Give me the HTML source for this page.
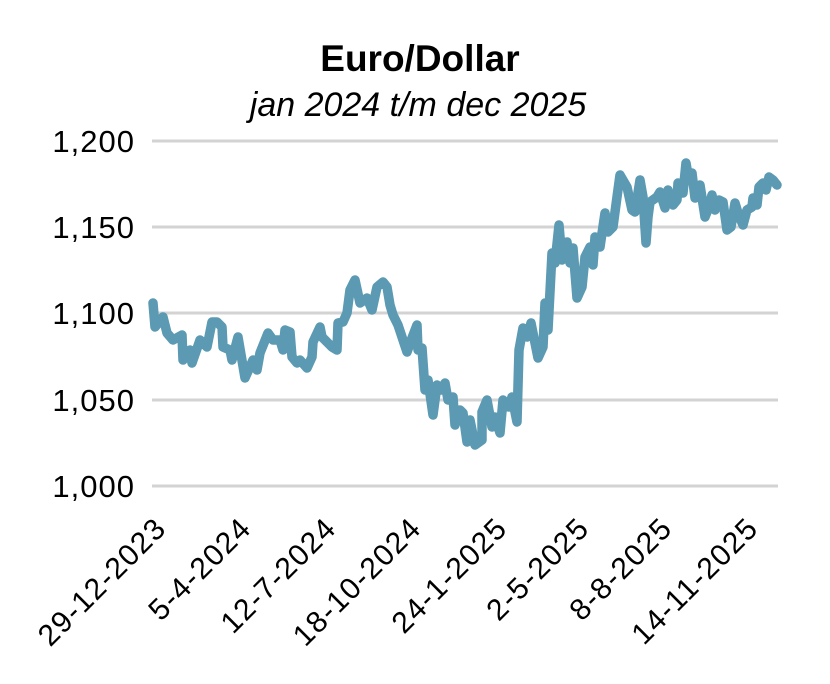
<!DOCTYPE html>
<html><head><meta charset="utf-8"><style>
html,body{margin:0;padding:0;background:#fff;}
svg{display:block;font-family:"Liberation Sans",Calibri,sans-serif;}
</style></head><body>
<svg width="830" height="684" viewBox="0 0 830 684" xmlns="http://www.w3.org/2000/svg">
<text x="420" y="71" text-anchor="middle" font-size="37" font-weight="bold" fill="#000">Euro/Dollar</text>
<text x="418" y="116" text-anchor="middle" font-size="34" font-style="italic" fill="#000">jan 2024 t/m dec 2025</text>
<g stroke="#d3d3d3" stroke-width="3">
<line x1="152" y1="141" x2="778" y2="141"/>
<line x1="152" y1="227" x2="778" y2="227"/>
<line x1="152" y1="313" x2="778" y2="313"/>
<line x1="152" y1="400" x2="778" y2="400"/>
<line x1="152" y1="486" x2="778" y2="486"/>
</g>
<g font-size="31" text-anchor="end" fill="#000" letter-spacing="1">
<text x="135" y="152">1,200</text>
<text x="135" y="238">1,150</text>
<text x="135" y="324">1,100</text>
<text x="135" y="411">1,050</text>
<text x="135" y="497">1,000</text>
</g>
<g font-size="30" text-anchor="end" fill="#000" letter-spacing="1.3">
<text transform="translate(168,530) rotate(-45)">29-12-2023</text>
<text transform="translate(253,530) rotate(-45)">5-4-2024</text>
<text transform="translate(338,530) rotate(-45)">12-7-2024</text>
<text transform="translate(423,530) rotate(-45)">18-10-2024</text>
<text transform="translate(509,530) rotate(-45)">24-1-2025</text>
<text transform="translate(591,530) rotate(-45)">2-5-2025</text>
<text transform="translate(674,530) rotate(-45)">8-8-2025</text>
<text transform="translate(760,530) rotate(-45)">14-11-2025</text>
</g>
<polyline fill="none" stroke="#5b9ab2" stroke-width="9.5" stroke-linejoin="round" stroke-linecap="round" points="
153,303 155,327 163,317 167,333 173,340 182,335 183,360 190,350 192,363 200,340 207,347 212,322 217,322 222,327 223,347 230,350 232,360 238,337 245,378 253,360 257,370 260,353 268,333 273,340 280,340 283,350 285,330 290,332 292,357 297,363 300,360 307,368 312,357 313,342 320,327 322,337 332,347 337,350 338,323 343,322 347,313 350,290 355,280 360,303 367,298 372,310 377,287 383,282 387,287 390,305 393,315 398,325 403,340 407,352 412,338 417,325 418,350 422,348 425,390 428,380 433,415 437,385 442,390 445,383 448,400 453,397 455,425 460,410 463,413 467,442 470,420 475,445 482,440 482,412 487,400 492,427 495,417 500,433 503,400 509,407 512,397 517,422 519,350 523,328 527,337 531,323 538,358 543,347 545,303 548,330 552,253 555,263 559,225 562,260 567,242 570,263 573,248 577,298 582,287 585,257 590,247 593,265 595,237 600,247 605,213 608,232 613,227 617,197 620,175 627,187 632,210 635,212 640,180 643,197 646,243 648,217 650,202 657,197 660,192 665,208 668,190 673,205 677,200 678,183 683,193 686,163 688,175 692,173 695,198 700,185 705,217 709,207 712,195 715,210 719,200 723,202 727,230 731,227 735,203 738,213 743,225 747,210 752,207 753,198 757,205 759,187 763,183 766,190 769,177 773,180 777,185"/>
</svg>
</body></html>
